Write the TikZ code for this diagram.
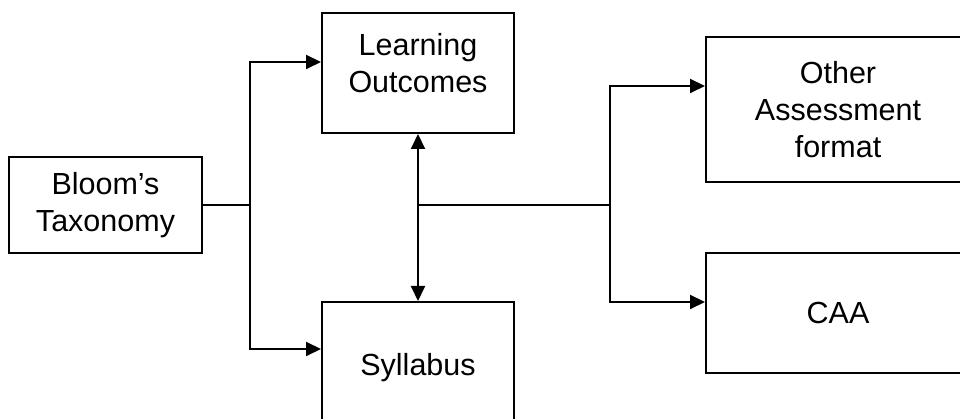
\documentclass[tikz,border=0pt]{standalone}
\usepackage{fontspec}
\setmainfont{Liberation Sans}
\usetikzlibrary{positioning, arrows.meta}
\tikzstyle{chart} = [x = 1pt, y = -1pt, line width = 2pt]
\tikzstyle{boxStyle} = [draw, rectangle, line width = 2pt, inner sep = 0pt, align = center, font = \fontsize{30.5}{37}\selectfont]
\tikzstyle{boxText} = [align = center, inner sep = 0pt, font = \fontsize{30.5}{37}\selectfont]
\tikzstyle{flowLine} = [line width = 2pt, -{Triangle[length = 15pt, width = 14pt]}]
\tikzstyle{twoWayLine} = [line width = 2pt, {Triangle[length = 15pt, width = 14pt]}-{Triangle[length = 15pt, width = 14pt]}]

\begin{document}
\begin{tikzpicture}[chart]
      \clip (0, 0) rectangle (960, 419);
      \fill [white] (0, 0) rectangle (960, 419);

      \node [boxStyle, minimum width = 193, minimum height = 96] (bloom) at (105.5, 205) {Bloom’s\\Taxonomy};
      \node [boxStyle, minimum width = 192, minimum height = 120] (outcomes) at (418, 73) {};
      \node [boxText] (outcomesText) at (418, 63) {Learning\\Outcomes};
      \node [boxStyle, minimum width = 192, minimum height = 132] (syllabus) at (418, 368) {Syllabus};
      \node [boxStyle, minimum width = 264, minimum height = 145] (other) at (838, 109.5) {Other\\Assessment\\format};
      \node [boxStyle, minimum width = 264, minimum height = 120] (caa) at (838, 313) {CAA};

      \coordinate (fork) at (250, 205);
      \coordinate (hub) at (418, 205);
      \coordinate (branch) at (610, 205);

      \draw (bloom.east) -- (fork);
      \draw [flowLine] (fork) |- (outcomes.west |- 0,62);
      \draw [flowLine] (fork) |- (syllabus.west |- 0,349);
      \draw [twoWayLine] (outcomes.south) -- (syllabus.north);
      \draw (hub) -- (branch);
      \draw [flowLine] (branch) |- (other.west |- 0,86);
      \draw [flowLine] (branch) |- (caa.west |- 0,302);
    \end{tikzpicture}
\end{document}
